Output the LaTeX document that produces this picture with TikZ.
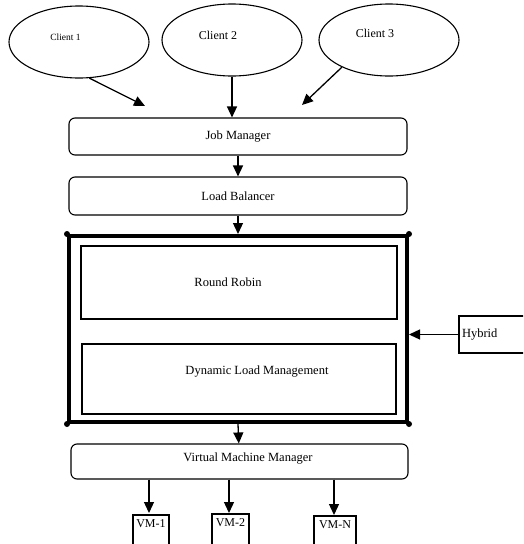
\documentclass[tikz,border=0pt]{standalone}
\usepackage{fontspec}
\setmainfont{Liberation Serif}
\usetikzlibrary{shapes.geometric,arrows.meta}
\begin{document}
\begin{tikzpicture}[x=1pt,y=-1pt,
  ell/.style={draw,ellipse,line width=1.1pt,minimum width=140pt,minimum height=72pt,inner sep=0pt},
  rbox/.style={draw,rounded corners=6pt,line width=1.1pt,minimum width=338pt,inner sep=0pt,font=\fontsize{12.5}{14}\selectfont},
  sbox/.style={draw,line width=1.1pt,inner sep=0pt,font=\fontsize{12.5}{14}\selectfont},
  arr/.style={line width=1.3pt,-{Triangle[width=10pt,length=11pt]}},
  dot/.style={fill,circle,inner sep=0pt,minimum size=6pt}]
\clip (0,0) rectangle (523,544);
\fill[white] (0,0) rectangle (523,544);
% clients
\node[ell,label={[font=\fontsize{9.5}{11}\selectfont,xshift=-13.5pt,yshift=5pt]center:Client 1}] (c1) at (79,42) {};
\node[ell,label={[font=\fontsize{12}{14}\selectfont,xshift=-14pt,yshift=5pt]center:Client 2}] (c2) at (232,40) {};
\node[ell,label={[font=\fontsize{12}{14}\selectfont,xshift=-14pt,yshift=7pt]center:Client 3}] (c3) at (389,40) {};
% main boxes
\node[rbox,minimum height=37pt] (jm) at (238,136.5) {Job Manager};
\node[rbox,minimum height=38pt] (lb) at (238,196) {Load Balancer};
\node[draw,line width=4pt,minimum width=338pt,minimum height=186pt,inner sep=0pt] (outer) at (238,329) {};
\node[sbox,minimum width=316pt,minimum height=73pt] (rr) at (239,282.5) {\hspace*{-22pt}Round Robin};
\node[sbox,minimum width=314pt,minimum height=70pt,text depth=18pt] (dlm) at (239,379) {\hspace*{36pt}Dynamic Load Management};
\node[sbox,minimum width=80pt,minimum height=37pt,text width=74pt,align=left] (hy) at (499,334.5) {Hybrid};
\node[rbox,minimum width=337pt,minimum height=35pt,text depth=8pt] (vmm) at (239.5,461.5) {\hspace*{17pt}Virtual Machine Manager};
\node[sbox,minimum width=36pt,minimum height=40pt,text depth=22pt,font=\fontsize{12}{14}\selectfont] (vm1) at (151,535) {VM-1};
\node[sbox,minimum width=37pt,minimum height=42pt,text depth=24pt,font=\fontsize{12}{14}\selectfont] (vm2) at (230.5,535) {VM-2};
\node[sbox,minimum width=42pt,minimum height=38pt,text depth=20pt,font=\fontsize{12}{14}\selectfont] (vmn) at (335,535) {VM-N};
% corner dots
\node[dot] (d1) at (outer.north west) {};
\node[dot] (d2) at (outer.north east) {};
\node[dot] (d3) at (outer.south west) {};
\node[dot] (d4) at (outer.south east) {};
% arrows
\coordinate (e1) at (145,106);
\coordinate (e3) at (302,105);
\draw[arr] (c1.-74) -- (e1);
\draw[arr] (c2.south) -- (c2.south |- jm.north);
\draw[arr] (c3.-150) -- (e3);
\draw[arr] (jm) -- (lb);
\draw[arr] (lb) -- (outer.north);
\draw[arr] (outer.south) -- (vmm);
\draw[arr] (hy.west) -- (outer.east |- hy.west);
\draw[arr] (vmm.south -| 149,0) -- (149,513);
\draw[arr] (vmm.south -| 229,0) -- (229,513);
\draw[arr] (vmm.south -| 334,0) -- (334,515);
\end{tikzpicture}
\end{document}
